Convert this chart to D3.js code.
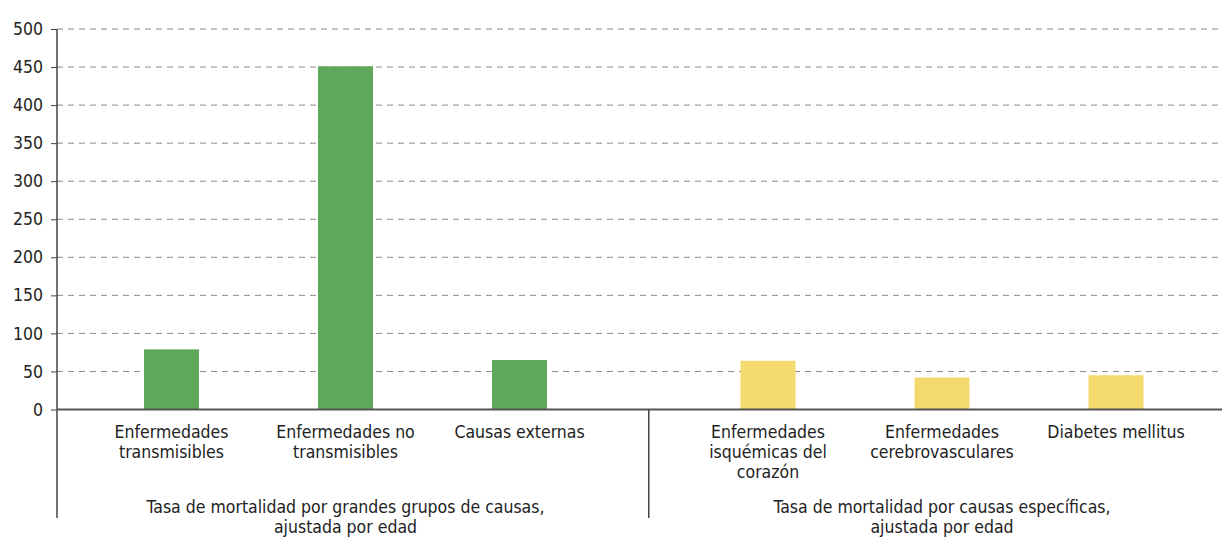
<!DOCTYPE html>
<html><head><meta charset="utf-8">
<script src="https://cdn.jsdelivr.net/npm/d3@7"></script>
<style>
body{margin:0;background:#fff;}
svg text{font-family:"Liberation Sans Narrow","DejaVu Sans Condensed",sans-serif;fill:#222;}
</style></head>
<body><svg id="c" width="1222" height="538"></svg>
<script>
const categories = [
  ["Enfermedades","transmisibles"],
  ["Enfermedades no","transmisibles"],
  ["Causas externas"],
  ["Enfermedades","isquémicas del","corazón"],
  ["Enfermedades","cerebrovasculares"],
  ["Diabetes mellitus"]
];
const values = [79, 451, 65, 64, 42, 45];
const groupOf = [0,0,0,1,1,1];
const groupLabels = [
  ["Tasa de mortalidad por grandes grupos de causas,","ajustada por edad"],
  ["Tasa de mortalidad por causas específicas,","ajustada por edad"]
];
const groupColors = ["#5EA85A","#F4D96E"];
const yTicks = [0,50,100,150,200,250,300,350,400,450,500];

const svg = d3.select("#c");
const mLeft = 57, mRight = 1222, mTop = 29, mBottom = 409.5;
const y = d3.scaleLinear().domain([0,500]).range([mBottom, mTop]);
const gap = 0.428;
const slot = categories.map((c,i)=> i + groupOf[i]*gap);
const x = d3.scaleLinear().domain([0, 5 + gap]).range([171.5, 1116]);
const bw = 55;
const FONT = '"Liberation Sans Narrow","DejaVu Sans Condensed",sans-serif';
const FS = "17.5px";

// grid
svg.append("g").selectAll("line").data(yTicks.filter(t=>t>0)).join("line")
  .attr("x1", mLeft).attr("x2", mRight)
  .attr("y1", d=>y(d)).attr("y2", d=>y(d))
  .attr("stroke","#8a8a8a").attr("stroke-width",1).attr("stroke-dasharray","6,5");

// bars
svg.append("g").selectAll("rect").data(values).join("rect")
  .attr("x",(d,i)=>x(slot[i])-bw/2).attr("width",bw)
  .attr("y",d=>y(d)).attr("height",d=>mBottom-y(d))
  .attr("fill",(d,i)=>groupColors[groupOf[i]]);

// y axis
const yAxis = d3.axisLeft(y).tickValues(yTicks).tickSize(6).tickPadding(8);
const ga = svg.append("g").attr("transform",`translate(${mLeft},0)`).call(yAxis);
ga.select(".domain").remove();
ga.selectAll(".tick line").attr("stroke","#444");
ga.selectAll(".tick text").style("font-size",FS).attr("fill","#222")
  .style("font-family",FONT);
svg.append("line").attr("x1",mLeft).attr("x2",mLeft).attr("y1",mTop).attr("y2",518)
  .attr("stroke","#444").attr("stroke-width",1.5);

// x axis line
svg.append("line").attr("x1",mLeft).attr("x2",mRight).attr("y1",mBottom).attr("y2",mBottom)
  .attr("stroke","#555").attr("stroke-width",2);
// separator
const sepX = (x(2)+x(3+gap))/2 + 5;
svg.append("line").attr("x1",sepX).attr("x2",sepX).attr("y1",mBottom).attr("y2",518)
  .attr("stroke","#444").attr("stroke-width",1.5);

// category labels
categories.forEach((lines,i)=>{
  const t = svg.append("text").attr("text-anchor","middle").style("font-size",FS)
    .attr("transform",`translate(${x(slot[i])},438)`);
  lines.forEach((l,k)=>t.append("tspan").attr("x",0).attr("y",k*20).text(l));
});
// group labels
groupLabels.forEach((lines,g)=>{
  const cx = x(slot[g*3+1]);
  const t = svg.append("text").attr("text-anchor","middle").style("font-size",FS)
    .attr("transform",`translate(${cx},513)`);
  lines.forEach((l,k)=>t.append("tspan").attr("x",0).attr("y",k*20).text(l));
});
</script></body></html>
